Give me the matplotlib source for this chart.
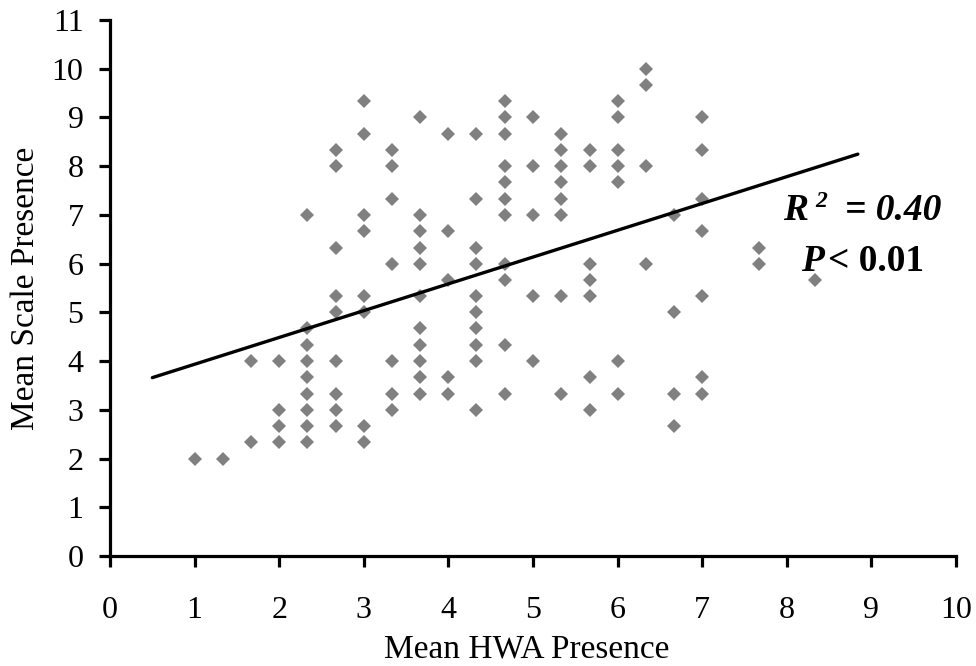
import numpy as np
import matplotlib
matplotlib.use("Agg")
import matplotlib.pyplot as plt
from matplotlib.transforms import offset_copy

# mean HWA presence (x) and mean scale presence (y), one line per x column
hwa_x = [1.0,
         1.33,
         1.67, 1.67,
         2.0, 2.0, 2.0, 2.0,
         2.33, 2.33, 2.33, 2.33, 2.33, 2.33, 2.33, 2.33, 2.33,
         2.67, 2.67, 2.67, 2.67, 2.67, 2.67, 2.67, 2.67, 2.67,
         3.0, 3.0, 3.0, 3.0, 3.0, 3.0, 3.0, 3.0,
         3.33, 3.33, 3.33, 3.33, 3.33, 3.33, 3.33,
         3.67, 3.67, 3.67, 3.67, 3.67, 3.67, 3.67, 3.67, 3.67, 3.67, 3.67,
         4.0, 4.0, 4.0, 4.0, 4.0,
         4.33, 4.33, 4.33, 4.33, 4.33, 4.33, 4.33, 4.33, 4.33, 4.33,
         4.67, 4.67, 4.67, 4.67, 4.67, 4.67, 4.67, 4.67, 4.67, 4.67, 4.67,
         5.0, 5.0, 5.0, 5.0, 5.0,
         5.33, 5.33, 5.33, 5.33, 5.33, 5.33, 5.33, 5.33,
         5.67, 5.67, 5.67, 5.67, 5.67, 5.67, 5.67,
         6.0, 6.0, 6.0, 6.0, 6.0, 6.0, 6.0,
         6.33, 6.33, 6.33, 6.33,
         6.67, 6.67, 6.67, 6.67,
         7.0, 7.0, 7.0, 7.0, 7.0, 7.0, 7.0,
         7.67, 7.67,
         8.33]
scale_y = [2.0,
           2.0,
           2.33, 4.0,
           2.33, 2.67, 3.0, 4.0,
           2.33, 2.67, 3.0, 3.33, 3.67, 4.0, 4.33, 4.67, 7.0,
           2.67, 3.0, 3.33, 4.0, 5.0, 5.33, 6.33, 8.0, 8.33,
           2.33, 2.67, 5.0, 5.33, 6.67, 7.0, 8.67, 9.33,
           3.0, 3.33, 4.0, 6.0, 7.33, 8.0, 8.33,
           3.33, 3.67, 4.0, 4.33, 4.67, 5.33, 6.0, 6.33, 6.67, 7.0, 9.0,
           3.33, 3.67, 5.67, 6.67, 8.67,
           3.0, 4.0, 4.33, 4.67, 5.0, 5.33, 6.0, 6.33, 7.33, 8.67,
           3.33, 4.33, 5.67, 6.0, 7.0, 7.33, 7.67, 8.0, 8.67, 9.0, 9.33,
           4.0, 5.33, 7.0, 8.0, 9.0,
           3.33, 5.33, 7.0, 7.33, 7.67, 8.0, 8.33, 8.67,
           3.0, 3.67, 5.33, 5.67, 6.0, 8.0, 8.33,
           3.33, 4.0, 7.67, 8.0, 8.33, 9.0, 9.33,
           6.0, 8.0, 9.67, 10.0,
           2.67, 3.33, 5.0, 7.0,
           3.33, 3.67, 5.33, 6.67, 7.33, 8.33, 9.0,
           6.0, 6.33,
           5.67]

# linear trend line as drawn
trend_x = [0.5, 8.84]
trend_slope = 0.55
trend_intercept = 3.385

plt.rcParams['font.family'] = ['Liberation Serif', 'DejaVu Serif']

fig = plt.figure(figsize=(9.76, 6.66), dpi=100)
ax = fig.add_axes([110 / 976, 1 - 556 / 666, 846 / 976, 536 / 666])

ax.plot(hwa_x, scale_y, linestyle='none', marker='D', markersize=7.6,
        color='#808080', markeredgewidth=0, zorder=2)
tx = np.array(trend_x)
ax.plot(tx, trend_intercept + trend_slope * tx, color='black', lw=2.4,
        solid_capstyle='round', zorder=3)

ax.set_xlim(0, 10)
ax.set_ylim(0, 11)
ax.set_xticks(range(0, 11))
ax.set_yticks(range(0, 12))
for side in ['top', 'right']:
    ax.spines[side].set_visible(False)
for side in ['left', 'bottom']:
    ax.spines[side].set_linewidth(2.3)
ax.tick_params(axis='both', direction='out', length=8, width=2.3,
               labelsize=23, color='black')
ax.tick_params(axis='x', pad=21)
ax.tick_params(axis='y', pad=11)

ax.set_xlabel('Mean HWA Presence', fontsize=24, va='bottom')
ax.set_ylabel('Mean Scale Presence', fontsize=24)
ax.xaxis.set_label_coords(0.492, -0.2025)
ax.yaxis.set_label_coords(-0.082, 0.5)

# R^2 / P annotation built from pieces
fig.canvas.draw()
renderer = fig.canvas.get_renderer()


def put_line(xc, yb, pieces):
    texts = []
    widths = []
    for s, size, style, rise, gap in pieces:
        t = ax.text(xc, yb, s, fontsize=size, fontstyle=style,
                    fontweight='bold', ha='left', va='baseline')
        widths.append(t.get_window_extent(renderer).width + gap)
        texts.append((t, rise, gap))
    total = sum(widths)
    cum = -total / 2
    for (t, rise, gap), w in zip(texts, widths):
        t.set_transform(offset_copy(ax.transData, fig, x=cum + gap,
                                    y=rise, units='dots'))
        cum += w


put_line(8.89, 6.90, [('R', 27, 'italic', 0, 0),
                      ('2', 17, 'italic', 13, 7),
                      ('= 0.40', 27, 'italic', 0, 18)])
put_line(8.90, 5.85, [('P', 27, 'italic', 0, 0),
                      ('< 0.01', 27, 'normal', 0, 4)])

fig.savefig('out.png', dpi=100)
